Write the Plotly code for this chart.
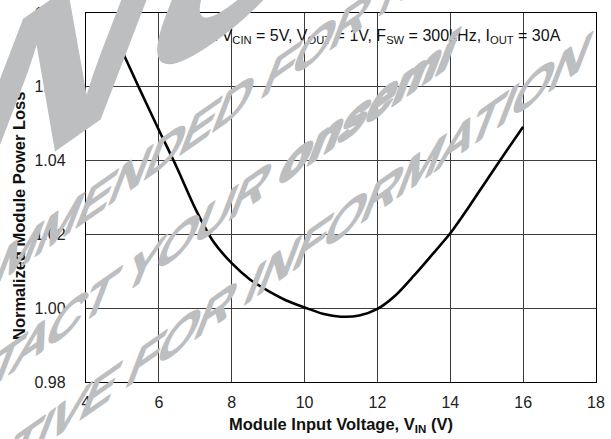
import plotly.graph_objects as go

# ---- data ----
vin = [5.0, 5.5, 6.0, 6.5, 7.0, 7.5, 8.0, 8.5, 9.0, 9.5, 10.0, 10.5, 11.0,
       11.5, 12.0, 12.5, 13.0, 13.5, 14.0, 14.5, 15.0, 15.5, 16.0]
norm_loss = [1.0695, 1.0588, 1.0483, 1.0380, 1.0270, 1.0180, 1.0122, 1.0078,
             1.0047, 1.0021, 1.0002, 0.9985, 0.9977, 0.9980, 0.9998, 1.0035,
             1.0088, 1.0145, 1.0203, 1.0273, 1.0347, 1.0420, 1.0492]
x_ticks = [4, 6, 8, 10, 12, 14, 16, 18]
y_ticks = [0.98, 1.00, 1.02, 1.04, 1.06, 1.08]
y_tick_text = ["0.98", "1.00", "1.02", "1.04", "1.06", "1.08"]

condition_text = ("V<sub>DRV</sub> & V<sub>CIN</sub> = 5V, V<sub>OUT</sub> = 1V, "
                  "F<sub>SW</sub> = 300kHz, I<sub>OUT</sub> = 30A")
x_title = "<b>Module Input Voltage, V<sub>IN</sub> (V)</b>"
y_title = "<b>Normalized Module Power Loss</b>"
watermark = [
    ("<b>DISCONTINUED</b>", 330),
    ("NOT RECOMMENDED FOR NEW DESIGN", 60),
    ("CONTACT YOUR <b>onsemi</b>", 60),
    ("REPRESENTATIVE FOR INFORMATION", 60),
]
# watermark line centres in pixel coordinates of the 611x439 canvas
wm_pos = [(-298, 320), (220, 112), (168, 249), (135, 366)]

FONT = "Liberation Sans, Arial, Helvetica, sans-serif"
W, H = 611, 439
L, R, T, B = 86, 15, 13, 57
PW, PH = W - L - R, H - T - B

def px2paper(px, py):
    return (px - L) / PW, (H - B - py) / PH

fig = go.Figure()
fig.add_trace(go.Scatter(
    x=vin, y=norm_loss, mode="lines",
    line=dict(color="black", width=2.6, shape="spline", smoothing=0.8),
    showlegend=False, hoverinfo="skip"))

axis_common = dict(
    showline=True, linecolor="black", linewidth=1.4, mirror=True,
    showgrid=True, gridcolor="#3c3c3c", gridwidth=1, zeroline=False,
    automargin=False, ticks="outside", tickcolor="rgba(0,0,0,0)",
    tickfont=dict(family=FONT, size=16, color="#222"),
)
fig.update_xaxes(range=[4, 18], tickvals=x_ticks, ticklen=6, **axis_common)
fig.update_yaxes(range=[0.98, 1.08], tickvals=y_ticks, ticktext=y_tick_text,
                 ticklen=16, **axis_common)

anns = []
cx, cy = px2paper(563, 36)
anns.append(dict(text=condition_text, x=cx, y=cy, xref="paper", yref="paper",
                 xanchor="right", yanchor="middle", showarrow=False,
                 font=dict(family=FONT, size=16, color="#111")))
tx, ty = px2paper(341, 425)
anns.append(dict(text=x_title, x=tx, y=ty, xref="paper", yref="paper",
                 xanchor="center", yanchor="middle", showarrow=False,
                 font=dict(family=FONT, size=16.5, color="#111")))
yx, yy = px2paper(19, 216)
anns.append(dict(text=y_title, x=yx, y=yy, xref="paper", yref="paper",
                 xanchor="center", yanchor="middle", showarrow=False,
                 textangle=-90, font=dict(family=FONT, size=16.5, color="#111")))
WM_START = len(anns)
for (txt, size), (px, py) in zip(watermark, wm_pos):
    wx, wy = px2paper(px, py)
    anns.append(dict(text=txt, x=wx, y=wy, xref="paper", yref="paper",
                     xanchor="center", yanchor="middle", showarrow=False,
                     font=dict(family=FONT, size=size, color="#bdbec0")))

fig.update_layout(
    template="none",
    width=W, height=H, margin=dict(l=L, r=R, t=T, b=B, autoexpand=False),
    paper_bgcolor="white", plot_bgcolor="white",
    annotations=anns,
)

post = """
document.body.style.margin = '0';
document.documentElement.style.margin = '0';
var gd = document.getElementById('{plot_id}');
function skewWM(){
  var ca = Math.cos(35*Math.PI/180), sa = Math.sin(35*Math.PI/180);
  var cb = Math.cos(21*Math.PI/180), sb = Math.sin(21*Math.PI/180);
  var a=ca, b=-sa, c=-sb, d=cb;
  gd.querySelectorAll('g.annotation').forEach(function(g){
    var idx = +g.getAttribute('data-index');
    if (idx < %d) return;
    var tg = g.querySelector('g.annotation-text-g');
    if (!tg) return;
    var txt = tg.querySelector('text');
    if (txt && idx > %d) {
      txt.style.stroke = '#bdbec0';
      txt.style.strokeWidth = '3.5px';
      txt.style.strokeLinejoin = 'round';
      txt.querySelectorAll('tspan').forEach(function(t){
        if ((t.getAttribute('style')||'').indexOf('bold') >= 0) {
          t.style.strokeWidth = '5px';
        }
      });
    }
    tg.removeAttribute('transform');
    var bb = tg.getBBox();
    var cx = bb.x + bb.width/2, cy = bb.y + bb.height/2;
    tg.setAttribute('transform', 'translate('+cx+','+cy+') matrix('+a+','+b+','+c+','+d+',0,0) translate('+(-cx)+','+(-cy)+')');
  });
}
skewWM();
gd.on('plotly_afterplot', skewWM);
""" % (WM_START, WM_START)

fig.write_html("out.html", post_script=post, config={"displayModeBar": False})
